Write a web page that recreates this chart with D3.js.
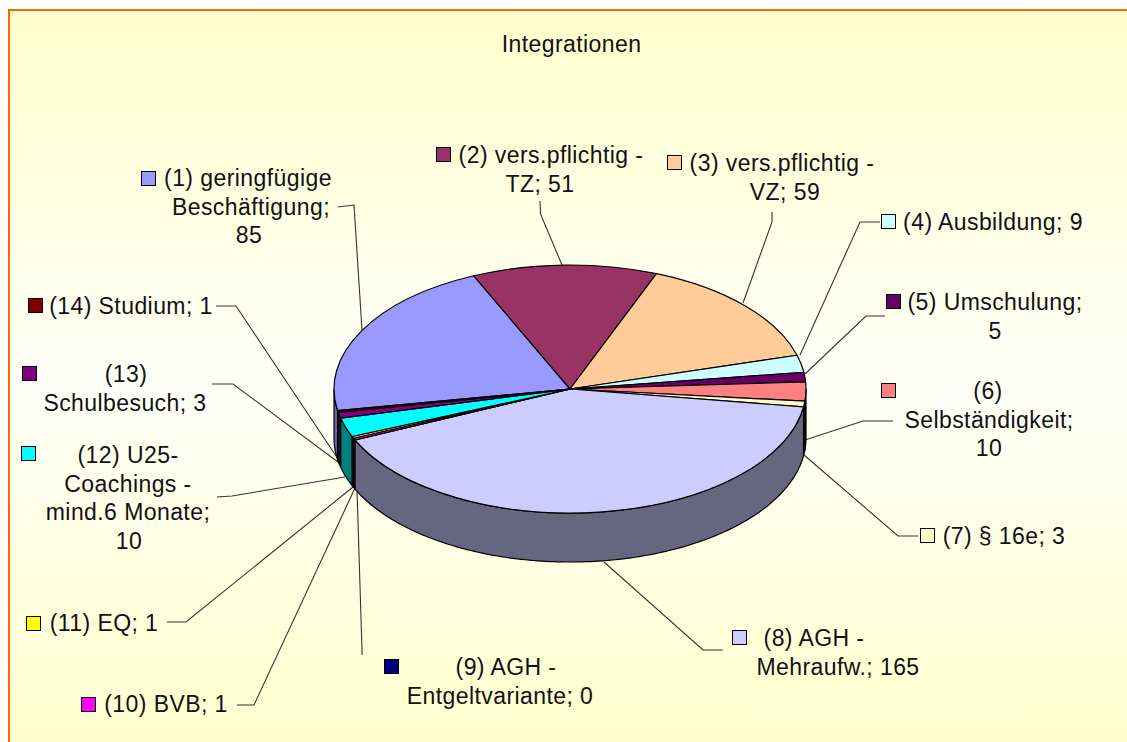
<!DOCTYPE html>
<html><head><meta charset="utf-8">
<script src="https://cdnjs.cloudflare.com/ajax/libs/d3/7.8.5/d3.min.js"></script>
<style>html,body{margin:0;padding:0;background:#fff}svg{display:block}
text{font-family:"Liberation Sans",Arial,sans-serif;font-size:23px;letter-spacing:0.42px;fill:#111}</style>
</head><body><svg id="c" width="1127" height="742"></svg>
<script>
const title = "Integrationen";
const categories = ["(1) geringfügige Beschäftigung","(2) vers.pflichtig - TZ","(3) vers.pflichtig - VZ","(4) Ausbildung","(5) Umschulung","(6) Selbständigkeit","(7) § 16e","(8) AGH - Mehraufw.","(9) AGH - Entgeltvariante","(10) BVB","(11) EQ","(12) U25-Coachings - mind.6 Monate","(13) Schulbesuch","(14) Studium"];
const values = [85,51,59,9,5,10,3,165,0,1,1,10,3,1];
const colors = ["#9999FF","#993366","#FFCC99","#CCFFFF","#660066","#FF8080","#FFFFCC","#CCCCFF","#000080","#FF00FF","#FFFF00","#00FFFF","#800080","#800000"];
// label text lines
const labelLines = [
 ["(1) geringfügige","Beschäftigung;","85"],["(2) vers.pflichtig -","TZ; 51"],["(3) vers.pflichtig -","VZ; 59"],
 ["(4) Ausbildung; 9"],["(5) Umschulung;","5"],["(6)","Selbständigkeit;","10"],["(7) § 16e; 3"],
 ["(8) AGH -","Mehraufw.; 165"],["(9) AGH -","Entgeltvariante; 0"],["(10) BVB; 1"],["(11) EQ; 1"],
 ["(12) U25-","Coachings -","mind.6 Monate;","10"],["(13)","Schulbesuch; 3"],["(14) Studium; 1"]];
// layout: legend-key corner, centre x of each line, y of first line centre
const keyPos = [[141,171],[436,147],[667,155],[881,214],[886,294],[881,383],[920,528],[732,630],[384,659],[81,697],[26,616],[21,446],[22,366],[28,298]];
const lineCx = [[248,251,249],[551,540],[782,785],[993],[995,995],[988,989,989],[1004],[814,838],[506,500],[166],[104],[128,128,128,129],[126,125],[131]];
const firstY = [178,155,163,222,302,391,536,638,667,704,623,455,374,306];
const leaders = [
 [[338,207],[354,205],[362,330]],[[540,201],[540.5,214],[562,265]],[[772,212],[772,222],[743,303]],
 [[880,222],[860,222],[800,355]],[[885,316],[866,316],[805,374]],[[893,421],[863,421],[805,440]],
 [[918,536],[898,536],[804,455]],[[723,650],[703,650],[604,562]],[[362,655],[362,650],[357,490]],
 [[237,705],[254,705],[355,488]],[[167,622],[186,622],[353,487]],[[217,497],[232,496],[345,477]],
 [[212,384],[233,384],[342,465]],[[216,306],[236,306],[340,462]]];

const svg = d3.select("#c");
const W=1127,H=742, cx=570, cy=389, rx=236, ry=124, depth=49, rad=Math.PI/180;
const lineHeight=28.7;

const defs=svg.append("defs");
const g=defs.append("linearGradient").attr("id","bg").attr("x1",0).attr("y1",0).attr("x2",0).attr("y2",1);
g.append("stop").attr("offset",0).attr("stop-color","#FFFFCC");
g.append("stop").attr("offset",0.5).attr("stop-color","#FFFFF8");
g.append("stop").attr("offset",1).attr("stop-color","#FFFFCC");
svg.append("rect").attr("x",9).attr("y",10).attr("width",W).attr("height",H).attr("fill","url(#bg)").attr("stroke","#FF6600").attr("stroke-width",2);

svg.append("text").attr("x",571.5).attr("y",44).attr("dy","0.35em").attr("text-anchor","middle").text(title);

// leaders under the pie
const lineGen=d3.line();
svg.append("g").selectAll("path").data(leaders).join("path")
  .attr("d",lineGen).attr("fill","none").attr("stroke","#333").attr("stroke-width",1.1);

const pie=d3.pie().sort(null).value(d=>d).startAngle(-100*rad).endAngle(260*rad);
const arcs=pie(values);
const pt=(a,dy=0)=>[cx+rx*Math.sin(a), cy-ry*Math.cos(a)+dy];
const shade=(c,k)=>{const r=d3.rgb(c);return d3.rgb(r.r*k,r.g*k,r.b*k).formatHex();};

// front walls
const fronts=[[-100*rad,-90*rad],[90*rad,270*rad]];
const walls=[];
arcs.forEach((a,i)=>{fronts.forEach(([f0,f1])=>{
  const s=Math.max(a.startAngle,f0),e=Math.min(a.endAngle,f1);
  if(e>s) walls.push({s,e,i});
});});
const wall=d=>{
  const n=Math.max(2,Math.ceil((d.e-d.s)/(1*rad)));
  const as=d3.range(n+1).map(k=>d.s+(d.e-d.s)*k/n);
  return lineGen([...as.map(a=>pt(a)),...as.slice().reverse().map(a=>pt(a,depth))])+"Z";
};
svg.append("g").selectAll("path").data(walls).join("path")
  .attr("d",wall).attr("fill",d=>shade(colors[d.i],d.i===0?0.667:0.5)).attr("stroke","#000").attr("stroke-width",1.2).attr("stroke-linejoin","round");

// top face: d3.arc on unit circle, squashed
const arc=d3.arc().innerRadius(0).outerRadius(rx);
svg.append("g").attr("transform",`translate(${cx},${cy}) scale(1,${ry/rx})`)
  .selectAll("path").data(arcs).join("path")
  .attr("d",arc).attr("fill",(d,i)=>colors[i]).attr("stroke","#000").attr("stroke-width",1.2)
  .attr("stroke-linejoin","round").attr("vector-effect","non-scaling-stroke");

// labels
const lab=svg.append("g").selectAll("g").data(labelLines).join("g");
lab.append("rect").attr("x",(d,i)=>keyPos[i][0]+.5).attr("y",(d,i)=>keyPos[i][1]+.5)
  .attr("width",14).attr("height",14).attr("fill",(d,i)=>colors[i]).attr("stroke","#000").attr("stroke-width",1);
lab.each(function(lines,i){
  d3.select(this).selectAll("text").data(lines).join("text")
   .attr("x",(d,j)=>lineCx[i][j]).attr("y",(d,j)=>firstY[i]+j*lineHeight)
   .attr("dy","0.35em").attr("text-anchor","middle").text(d=>d);
});
</script></body></html>
